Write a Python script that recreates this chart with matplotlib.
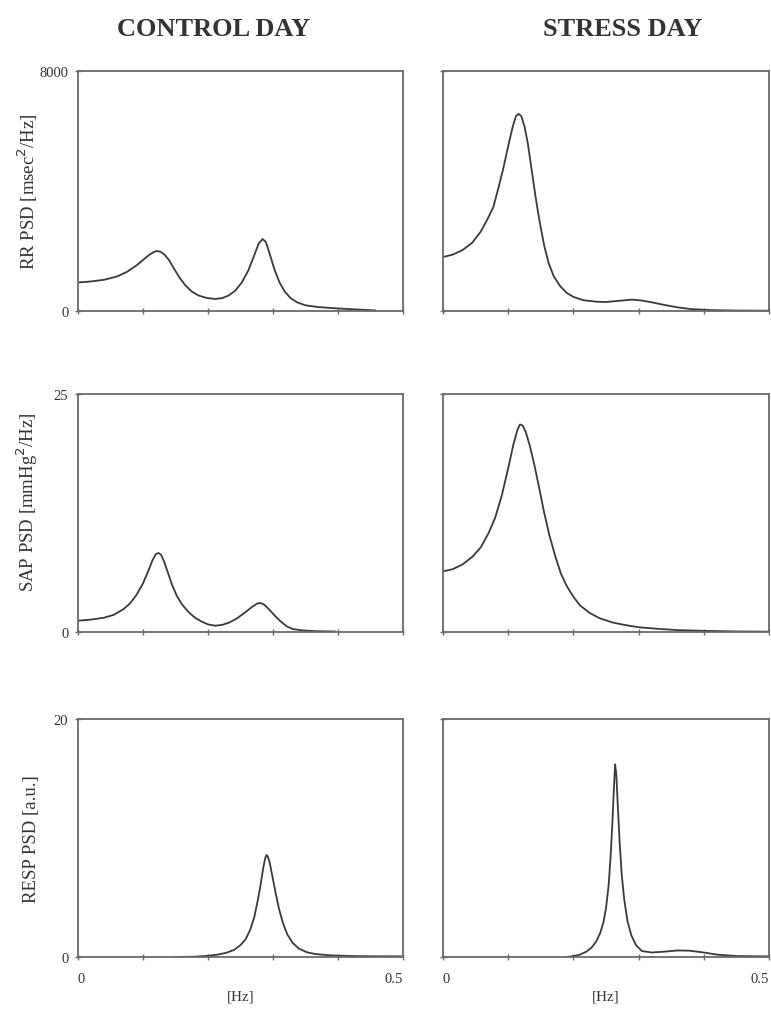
import matplotlib
matplotlib.use("Agg")
import matplotlib.pyplot as plt

plt.rcParams['font.family'] = ['Liberation Serif', 'DejaVu Serif']

# ---- data ----
rr_ctrl_f = [0.0, 0.02, 0.04, 0.06, 0.075, 0.09, 0.1, 0.11, 0.117, 0.121, 0.127, 0.133, 0.14, 0.148, 0.156, 0.165, 0.175, 0.185, 0.197, 0.211, 0.222, 0.232, 0.242, 0.252, 0.262, 0.271, 0.278, 0.284, 0.289, 0.295, 0.302, 0.31, 0.318, 0.327, 0.337, 0.35, 0.37, 0.4, 0.43, 0.457]
rr_ctrl_v = [950, 985, 1040, 1150, 1300, 1520, 1700, 1880, 1970, 2000, 1975, 1880, 1700, 1400, 1120, 860, 650, 520, 440, 400, 430, 520, 680, 950, 1350, 1850, 2250, 2400, 2300, 1900, 1400, 950, 650, 430, 290, 190, 130, 85, 50, 20]

rr_str_f = [0.0, 0.015, 0.03, 0.045, 0.058, 0.068, 0.077, 0.085, 0.093, 0.1, 0.107, 0.112, 0.116, 0.12, 0.125, 0.13, 0.136, 0.142, 0.148, 0.155, 0.162, 0.17, 0.18, 0.19, 0.2, 0.215, 0.235, 0.25, 0.27, 0.29, 0.305, 0.32, 0.34, 0.36, 0.38, 0.41, 0.45, 0.5]
rr_str_v = [1800, 1880, 2030, 2280, 2650, 3050, 3450, 4100, 4800, 5500, 6150, 6500, 6570, 6500, 6150, 5600, 4700, 3800, 3000, 2200, 1600, 1150, 820, 600, 470, 360, 310, 300, 340, 380, 350, 290, 200, 120, 65, 30, 15, 10]

sap_ctrl_f = [0.0, 0.02, 0.04, 0.055, 0.07, 0.08, 0.09, 0.1, 0.108, 0.115, 0.12, 0.124, 0.128, 0.133, 0.139, 0.145, 0.152, 0.16, 0.17, 0.18, 0.19, 0.2, 0.211, 0.222, 0.233, 0.245, 0.257, 0.268, 0.276, 0.281, 0.287, 0.295, 0.303, 0.312, 0.321, 0.33, 0.345, 0.365, 0.395]
sap_ctrl_v = [1.19, 1.3, 1.5, 1.8, 2.4, 3.0, 3.9, 5.1, 6.4, 7.6, 8.2, 8.3, 8.1, 7.3, 6.1, 4.9, 3.8, 2.9, 2.1, 1.5, 1.1, 0.8, 0.66, 0.75, 1.0, 1.45, 2.05, 2.65, 3.0, 3.05, 2.85, 2.3, 1.7, 1.1, 0.6, 0.32, 0.17, 0.09, 0.05]

sap_str_f = [0.0, 0.015, 0.03, 0.045, 0.058, 0.07, 0.08, 0.09, 0.1, 0.108, 0.114, 0.118, 0.122, 0.127, 0.133, 0.14, 0.147, 0.155, 0.163, 0.172, 0.181, 0.19, 0.2, 0.21, 0.225, 0.24, 0.26, 0.28, 0.3, 0.33, 0.36, 0.4, 0.45, 0.5]
sap_str_v = [6.37, 6.6, 7.1, 7.9, 8.9, 10.4, 12.0, 14.3, 17.2, 19.7, 21.2, 21.8, 21.7, 21.0, 19.6, 17.6, 15.3, 12.6, 10.2, 8.0, 6.1, 4.8, 3.7, 2.8, 2.0, 1.45, 1.0, 0.72, 0.5, 0.33, 0.2, 0.12, 0.06, 0.03]

resp_ctrl_f = [0.149, 0.18, 0.2, 0.215, 0.228, 0.24, 0.25, 0.258, 0.265, 0.271, 0.276, 0.281, 0.285, 0.288, 0.29, 0.292, 0.295, 0.299, 0.304, 0.309, 0.315, 0.322, 0.33, 0.34, 0.352, 0.365, 0.39, 0.43, 0.5]
resp_ctrl_v = [0.0, 0.03, 0.1, 0.2, 0.35, 0.6, 1.0, 1.5, 2.3, 3.3, 4.6, 6.1, 7.5, 8.3, 8.57, 8.45, 7.9, 6.8, 5.4, 4.1, 2.9, 1.9, 1.2, 0.7, 0.4, 0.25, 0.13, 0.07, 0.05]

resp_str_f = [0.189, 0.2, 0.21, 0.22, 0.228, 0.235, 0.241, 0.246, 0.25, 0.254, 0.257, 0.26, 0.262, 0.264, 0.266, 0.268, 0.271, 0.274, 0.278, 0.283, 0.289, 0.296, 0.305, 0.32, 0.34, 0.36, 0.378, 0.4, 0.42, 0.45, 0.5]
resp_str_v = [0.0, 0.07, 0.2, 0.45, 0.8, 1.3, 2.0, 2.9, 4.1, 6.0, 8.4, 11.5, 14.0, 16.2, 15.2, 12.8, 9.6, 7.0, 4.8, 3.0, 1.8, 1.0, 0.5, 0.38, 0.45, 0.55, 0.53, 0.38, 0.2, 0.08, 0.05]

col_titles = ["CONTROL DAY", "STRESS DAY"]
row_labels = ["RR PSD [msec$^2$/Hz]", "SAP PSD [mmHg$^2$/Hz]", "RESP PSD [a.u.]"]
row_ymax = [8000, 25, 20]
row_ytick_labels = [["0", "8000"], ["0", "25"], ["0", "20"]]
x_ticks = [0.0, 0.1, 0.2, 0.3, 0.4, 0.5]
x_tick_labels = ["0", "", "", "", "", "0.5"]

series = [[(rr_ctrl_f, rr_ctrl_v), (rr_str_f, rr_str_v)],
          [(sap_ctrl_f, sap_ctrl_v), (sap_str_f, sap_str_v)],
          [(resp_ctrl_f, resp_ctrl_v), (resp_str_f, resp_str_v)]]

W, H = 771, 1012
fig = plt.figure(figsize=(W / 100, H / 100), dpi=100)

col_x = [(78, 403), (443, 769)]
row_y = [(72, 312), (395, 633), (720, 958)]
label_ycenter = [0.5, 0.55, 0.5]

line_col = '#3a3a3a'
spine_col = '#6a6a6a'
text_col = '#333333'

for r in range(3):
    for c in range(2):
        x0, x1 = col_x[c]
        y0, y1 = row_y[r]
        ax = fig.add_axes([x0 / W, 1 - y1 / H, (x1 - x0) / W, (y1 - y0) / H])
        f, v = series[r][c]
        ax.plot(f, v, color=line_col, lw=1.3)
        ax.set_xlim(0, 0.5)
        ax.set_ylim(0, row_ymax[r])
        for s in ax.spines.values():
            s.set_color(spine_col)
            s.set_linewidth(1.3)
        ax.set_xticks(x_ticks)
        ax.set_yticks([0, row_ymax[r]])
        ax.tick_params(axis='both', direction='inout', length=4, width=1.0,
                       color=spine_col, labelsize=10.5, labelcolor=text_col)
        ax.tick_params(axis='y', pad=5)
        ax.tick_params(axis='x', pad=9)
        if c == 0:
            ax.set_yticklabels(row_ytick_labels[r])
            ax.set_ylabel(row_labels[r], fontsize=13.5, color=text_col)
            ax.yaxis.set_label_coords(-0.118, label_ycenter[r])
        else:
            ax.set_yticklabels([])
        if r == 2:
            labs = ax.set_xticklabels(x_tick_labels)
            labs[-1].set_horizontalalignment('right')
            labs[0].set_horizontalalignment('left')
            ax.set_xlabel("[Hz]", fontsize=11, color=text_col, labelpad=3)
        else:
            ax.set_xticklabels([])

title_x = [214, 623]
for c in range(2):
    fig.text(title_x[c] / W, 1 - 30 / H, col_titles[c],
             ha='center', va='center', fontsize=19, fontweight='bold', color=text_col)

fig.savefig("out.png", dpi=100, facecolor='white')
